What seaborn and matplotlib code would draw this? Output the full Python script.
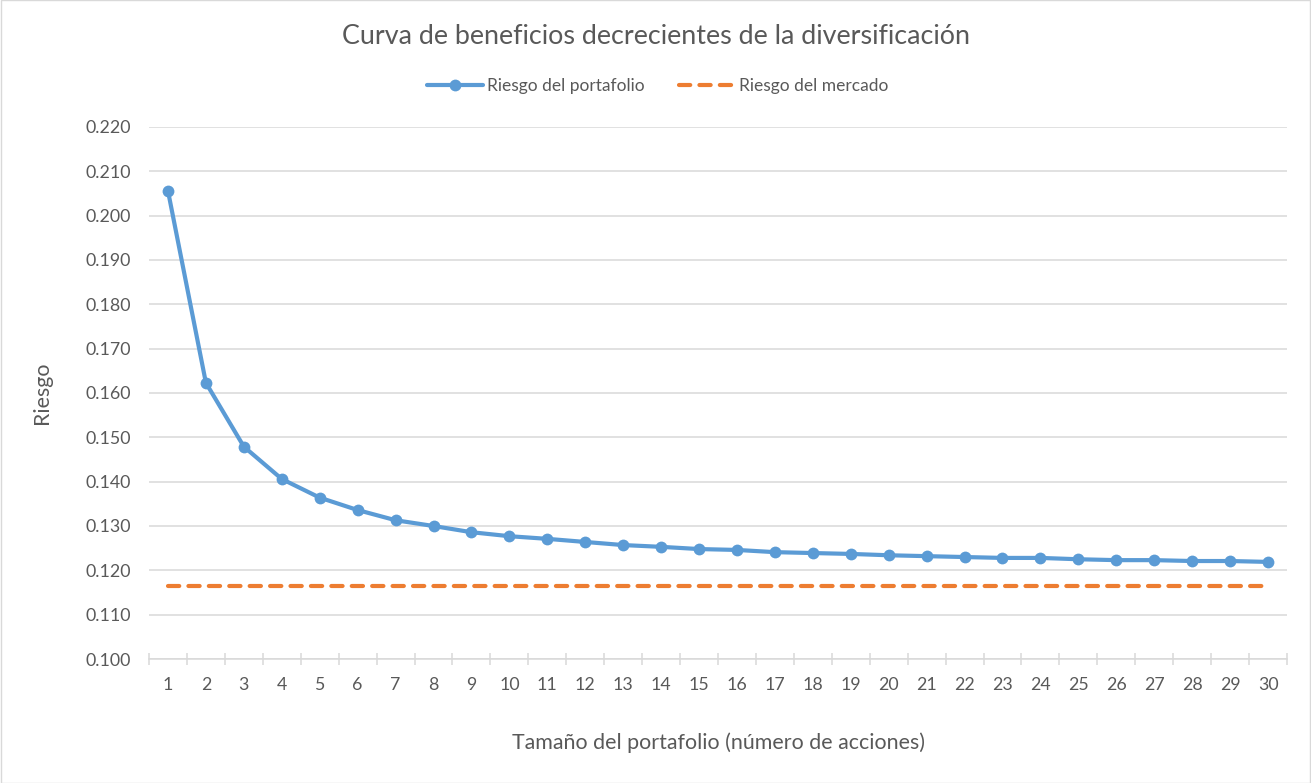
import numpy as np
import pandas as pd
import matplotlib
matplotlib.use('Agg')
import matplotlib.pyplot as plt
from matplotlib.ticker import FixedLocator, FormatStrFormatter
import seaborn as sns

# data
acciones = list(range(1, 31))
riesgo_portafolio = [0.2056, 0.1623, 0.1479, 0.1406, 0.1364, 0.1336, 0.1313, 0.1300,
                     0.1286, 0.1277, 0.1271, 0.1264, 0.1257, 0.1253, 0.1248, 0.1246,
                     0.1241, 0.1239, 0.1237, 0.1234, 0.1232, 0.1230, 0.1228, 0.1228,
                     0.1225, 0.1223, 0.1223, 0.1221, 0.1221, 0.1219]
riesgo_mercado = [0.1165] * 30
y_ticks = [0.100, 0.110, 0.120, 0.130, 0.140, 0.150, 0.160, 0.170, 0.180,
           0.190, 0.200, 0.210, 0.220]

blue = '#5B9BD5'
orange = '#ED7D31'
grid_col = '#D9D9D9'
text_col = '#595959'

sns.set_theme(style='white')
plt.rcParams['font.family'] = ['Lato', 'DejaVu Sans']

df = pd.DataFrame({'n': acciones, 'port': riesgo_portafolio, 'merc': riesgo_mercado})

fig = plt.figure(figsize=(13.11, 7.83), dpi=100)
ax = fig.add_axes([149 / 1311, 1 - 659 / 783, (1287 - 149) / 1311, (659 - 127) / 783])

sns.lineplot(data=df, x='n', y='port', ax=ax, color=blue, linewidth=3.0,
             marker='o', markersize=8.5, markeredgewidth=0,
             label='Riesgo del portafolio', legend=False)
sns.lineplot(data=df, x='n', y='merc', ax=ax, color=orange, linewidth=3.0,
             label='Riesgo del mercado', legend=False)
merc_line = ax.lines[-1]
merc_line.set_dashes((2.7, 2.2))
merc_line.set_dash_capstyle('round')
ax.lines[0].set_solid_capstyle('round')

ax.set_xlim(0.5, 30.5)
ax.set_ylim(0.100, 0.220)
ax.set_yticks(y_ticks)
ax.yaxis.set_major_formatter(FormatStrFormatter('%.3f'))
ax.grid(axis='y', color=grid_col, linewidth=1.1)
ax.set_axisbelow(True)

# category labels at centers, tick marks on category boundaries
ax.xaxis.set_major_locator(FixedLocator(acciones))
ax.xaxis.set_minor_locator(FixedLocator([i + 0.5 for i in range(0, 31)]))
ax.tick_params(axis='x', which='major', length=0, pad=13, labelsize=12.8, labelcolor=text_col)
ax.tick_params(axis='x', which='minor', direction='inout', length=8, width=1.1,
               color=grid_col, bottom=True)
ax.tick_params(axis='y', length=0, pad=13, labelsize=12.8, labelcolor=text_col)

for s in ['top', 'right', 'left']:
    ax.spines[s].set_visible(False)
ax.spines['bottom'].set_color(grid_col)
ax.spines['bottom'].set_linewidth(1.1)

ax.set_xlabel('Tamaño del portafolio (número de acciones)', fontsize=15.4,
              color=text_col, labelpad=28)
ax.set_ylabel('Riesgo', fontsize=15.4, color=text_col, labelpad=24)

fig.text(656 / 1311, 1 - 37 / 783, 'Curva de beneficios decrecientes de la diversificación',
         ha='center', va='center', fontsize=19.4, color=text_col)

handles, labels = ax.get_legend_handles_labels()
fig.legend(handles, labels, loc='center', bbox_to_anchor=(658 / 1311, 1 - 86 / 783),
           ncol=2, frameon=False, fontsize=12.5, labelcolor=text_col,
           handlelength=3.2, handletextpad=0.25, columnspacing=2.0)

fig.patches.append(plt.Rectangle((0.0005, 0.0005), 0.999, 0.999, transform=fig.transFigure,
                                 fill=False, edgecolor=grid_col, linewidth=1))

fig.savefig('out.png', dpi=100)
